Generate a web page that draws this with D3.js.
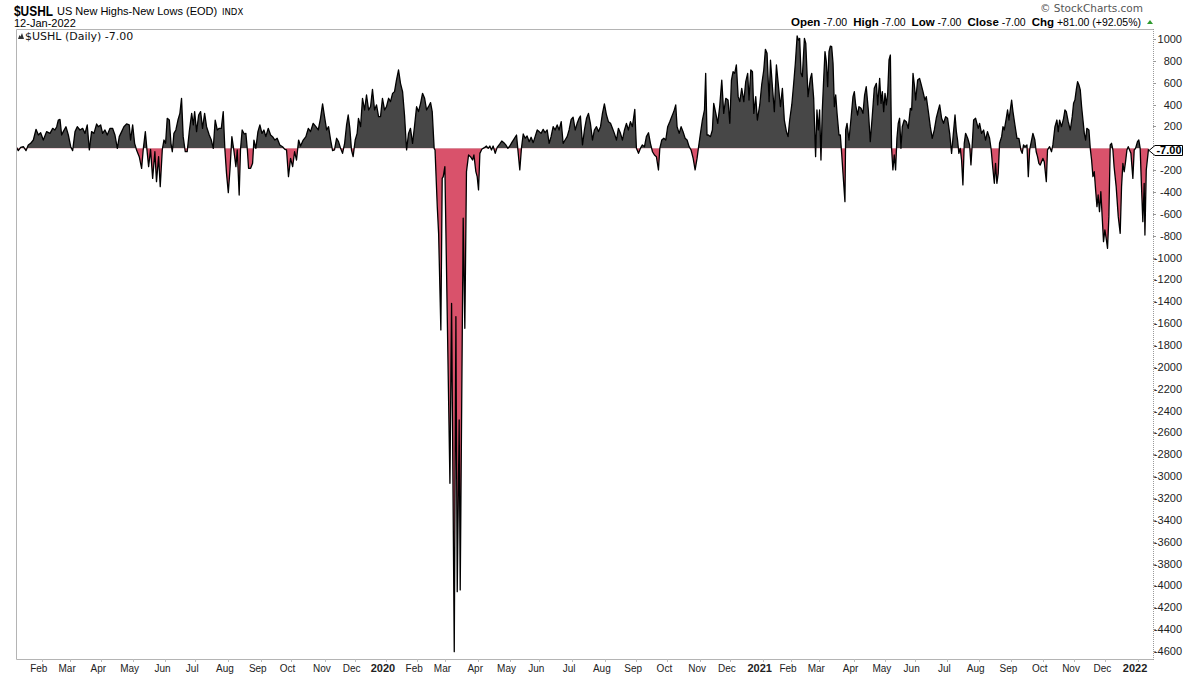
<!DOCTYPE html>
<html><head><meta charset="utf-8">
<script src="https://cdn.jsdelivr.net/npm/d3@7"></script>
<style>body{margin:0;background:#fff}svg{display:block}</style>
</head><body><svg id="c" width="1200" height="675"></svg>
<script>
// ---------- data ----------
const lastSession = "2022-01-12";
const sessionCount = 761;
const marketHolidays = ["2019-01-21","2019-02-18","2019-04-19","2019-05-27","2019-07-04","2019-09-02","2019-11-28","2019-12-25",
  "2020-01-01","2020-01-20","2020-02-17","2020-04-10","2020-05-25","2020-07-03","2020-09-07","2020-11-26","2020-12-25",
  "2021-01-01","2021-01-18","2021-02-15","2021-04-02","2021-05-31","2021-07-05","2021-09-06","2021-11-25","2021-12-24"];
const yTickValues = d3.range(-4600, 1001, 200).filter(v => v !== 0);
const lastValue = -7.00;
const headerFields = [["Open","-7.00"],["High","-7.00"],["Low","-7.00"],["Close","-7.00"],["Chg","+81.00 (+92.05%)"]];
// [trading session index, new highs - new lows]
const ushl = [
[0,9],[1.2,-21],[2.8,9],[4.6,15],[6.4,-21],[7.9,31],[9.5,46],[11.3,76],[13.1,174],[14.7,122],[16.2,143],[18,76],[20.2,153],[22.5,137],[24.3,183],[25.8,168],[27,198],[28.1,259],[29.2,265],[30.3,122],[31.4,153],[33.2,198],[34.8,122],[36.4,15],[37.7,-21],[39.3,153],[40.8,198],[42.6,168],[44.4,183],[46,137],[47.5,214],[48.9,-15],[50.4,153],[52,137],[53.8,223],[54.9,198],[56.5,214],[57.8,137],[59.4,168],[60.9,122],[62.8,183],[64.5,183],[66.1,122],[67.7,0],[69,107],[70.6,153],[72.1,198],[73.9,223],[75.7,214],[76.6,76],[78,214],[79.3,46],[80.6,-15],[82.4,-76],[84,-183],[85.1,-9],[86.5,153],[87.6,-15],[88.7,-168],[90,-9],[91.4,-275],[92.9,-31],[94,-305],[95.4,-76],[96.5,-351],[97.9,-9],[99,76],[100.1,46],[101.2,275],[102.6,259],[103.7,46],[104.6,-31],[105.7,137],[107,168],[108.4,259],[109.7,320],[110.8,458],[111.9,107],[113.3,-31],[114.6,-31],[116,153],[117.6,320],[118.7,214],[119.6,336],[120.9,153],[122.3,305],[123.6,336],[124.9,183],[126.3,320],[127.6,198],[129.4,122],[130.8,76],[132.1,0],[133.4,259],[134.8,168],[136.1,183],[137.5,183],[138.8,336],[139.9,-9],[141,-229],[142.2,-406],[143.3,-198],[144.6,107],[145.9,-15],[147.3,-168],[148.2,-15],[149.5,-427],[150.4,-9],[151.5,168],[152.9,131],[154,137],[155,-15],[155.8,-183],[157.2,-183],[158.5,-137],[159.4,76],[160.7,0],[162.1,153],[163.4,214],[164.8,137],[166.1,168],[167.4,107],[169,183],[170.6,122],[171.9,107],[173.5,76],[175,92],[176.8,31],[178.6,15],[180.2,-9],[181.3,-15],[182.6,-259],[184,-92],[185.4,-168],[186.7,-31],[188,-107],[189.4,76],[190.7,21],[192.5,76],[194.3,107],[195.9,183],[197.4,153],[199.2,229],[201,198],[202.6,168],[204.1,275],[205.5,406],[206.8,290],[208.2,168],[209.5,198],[210.9,76],[212.2,-21],[213.5,-15],[214.9,92],[216.2,61],[217.6,0],[218.9,-46],[220.3,46],[221.6,214],[222.7,305],[223.8,183],[224.9,-15],[226,-76],[227.4,76],[228.7,137],[229.6,275],[231,198],[232.3,458],[233.7,351],[235,488],[236.4,351],[237.7,381],[239,540],[240.4,351],[241.7,397],[243.1,290],[244.4,290],[245.7,458],[247.1,351],[248.4,381],[249.8,458],[251.1,427],[252.5,503],[253.8,519],[255.1,625],[256.5,717],[257.8,595],[259.2,519],[260.5,305],[261.9,-15],[263.2,137],[264.5,183],[265.9,46],[267.2,198],[268.6,381],[269.9,336],[271.3,412],[272.6,503],[274,458],[275.3,351],[276.6,381],[278,418],[279.1,336],[280.4,0],
[281,-15],[282.5,-534],[283.4,-778],[284.9,-1662],[285.8,-275],[286.5,-259],[287.6,-168],[291,-3065],[292.1,-1418],[293.9,-4606],[295,-1540],[295.9,-4057],[297.2,-2486],[297.9,-4041],[299.9,-640],[301,-1647],[302.1,-213],[303.5,-61],[304.8,-76],[306.2,-107],[307.1,-61],[308.4,-213],[309.3,-259],[310.2,-381],[311.1,-46],[312.4,-9],[313.3,0],
[314.4,9],[315.5,21],[316.7,0],[317.8,21],[318.9,-15],[320,21],[321.4,-46],[322.7,9],[324.5,40],[325.8,67],[327.2,52],[328.5,31],[329.9,0],[331.2,21],[332.5,52],[333.9,82],[335.7,122],[336.6,-9],[337.9,-198],[339,0],[340.2,131],[341.5,92],[342.8,113],[344.2,61],[345.5,101],[346.9,52],[348.2,107],[349.6,168],[350.9,153],[352.2,137],[353.6,174],[354.9,143],[356.3,168],[357.6,46],[358.9,107],[360.3,198],[361.6,168],[363,214],[364.3,168],[365.7,244],[367,46],[368.3,76],[369.7,107],[371,168],[372.4,265],[373.7,284],[375.1,168],[376.4,229],[377.7,275],[378.6,296],[380,31],[381.3,168],[382.7,275],[384,320],[385.3,229],[386.7,76],[388,168],[389.4,198],[390.7,153],[392.1,198],[393.4,320],[394.7,406],[396.1,305],[397.4,244],[398.8,229],[400.1,183],[401.4,137],[402.8,76],[404.1,183],[405.5,137],[406.8,76],[408.2,168],[409.5,229],[410.8,168],[412.2,244],[413.5,198],[415.1,357],[416.2,0],[417.6,-46],[418.9,0],[420.2,31],[421.6,15],[422.9,107],[424.3,143],[425.6,46],[427,-31],[428.3,-61],[429.6,-76],[431,-198],[431.9,0],[433.2,76],[434.6,92],[435.9,76],[437.2,198],[438.6,244],[439.9,290],[441.3,336],[442.6,397],[443.5,198],[444.9,137],[446.2,198],[447.5,153],[448.9,92],[450.2,76],[451.6,15],[452.9,-15],[454.3,-92],[455.6,-198],[456.9,-92],[457.8,0],[459.2,137],[460.5,259],[461.9,351],[462.7,686],[463.6,122],
[464.5,122],[465.9,107],[467.2,168],[468.1,412],[469.5,320],[470.8,229],[472.1,381],[473.5,625],[474.8,320],[476.2,458],[477.7,442],[478.9,229],[480,625],[481.1,701],[482.2,686],[483.3,763],[484.5,473],[485.6,427],[486.9,549],[488.3,427],[489.6,610],[490.9,686],[491.8,442],[493,717],[494.1,701],[495,320],[496.3,473],[497.4,259],[499,397],[500.3,580],[501.7,717],[502.8,906],[503.9,869],[505.3,427],[506.2,808],[507.5,564],[508.8,336],[510.2,763],[511.5,580],[512.9,381],[514.2,549],[515.5,259],[516.9,153],[518,107],[519.1,259],[520.5,397],[521.8,595],[522.9,778],[524.1,1028],[524.9,991],[525.8,1006],
[526.7,686],[527.6,656],[529,1006],[529.9,961],[531.4,473],[533,640],[533.9,686],[535.2,458],[536.5,-76],
[537.4,351],[538.3,168],[539.2,351],[540.1,-107],[541,351],[541.9,625],[542.8,885],[543.7,793],[544.6,564],[545.5,885],[546.4,936],[547.3,930],[548.2,778],[549.1,381],[550,488],[550.9,320],[552.2,122],[553.1,122],[554,-46],[554.9,-229],[556.2,-488],[556.7,168],[557.6,229],[558.9,76],[560.3,275],[561.6,473],[562.5,519],[563.4,397],[564.7,305],[565.6,381],[567,366],[568.3,320],[569.4,488],[570.5,564],[571.9,351],[573.2,61],[574.6,305],[575.9,549],[577.3,595],[578.2,397],[579.5,640],[580.4,412],[581.3,519],[582.2,336],[583.1,503],[584,397],[584.9,503],[585.8,808],[586.7,854],[587.5,0],[588.4,-198],[589.3,-61],[590.2,-198],[591.1,92],[592,229],[592.9,275],[593.8,0],[594.7,198],[596,259],[597.4,244],[598.7,183],[600.1,366],[601,351],[601.9,686],[602.8,580],[603.7,442],[605,625],[606.3,640],[607.2,595],[608.6,519],[609.9,442],[610.8,473],[612.2,336],[613.5,198],[614.8,92],[616.2,168],[617.5,275],[618.9,351],[619.8,397],[621.1,275],[622.4,229],[623.8,290],[625.1,275],[626.5,137],[627.8,-46],[629.2,168],[630.1,305],[631,153],[631.8,76],[632.7,-46],[633.6,0],[634.5,-107],[635.4,-335],[636.3,46],[637.2,137],[638.6,92],[639.9,31],[640.8,-152],[641.7,46],[642.6,259],[643.9,275],[644.8,229],[645.7,183],[646.6,229],[647.9,137],[649.3,168],[650.6,76],[651.9,153],[653.3,92],[654.4,-15],[655.5,-183],[656.5,-320],[657.3,-137],[658.2,-320],[659.1,-229],[660,46],[661.4,107],[662.3,198],[663.2,168],[664.5,275],[665.4,351],[666.3,259],[667.2,351],[668.1,442],[669,336],[670.3,214],[671.7,92],[673,92],[674.3,-15],[675.2,-46],[676.1,31],[677,15],[678.4,31],[679.3,-259],[680.2,-15],[681.5,76],[682.4,137],[683.7,76],[684.6,-31],[685.5,-76],[686.4,-137],[687.3,-153],[688.2,-122],[689.1,-92],[690,-122],[691.4,-305],[692.2,-15],[693.6,15],[694.9,-31],[695.8,31],[697.2,198],[698.5,259],[699.4,153],[700.3,259],[701.6,198],[703,275],[703.9,351],[704.8,336],[706.1,244],[707.5,168],[708.8,290],[709.7,412],[710.6,442],[711.5,534],[712.4,610],[713.3,580],[714.2,534],[715.1,381],[716,259],[716.9,137],[717.8,76],[718.6,183],[720,168],[720.9,0],[721.8,-107],[722.7,-259],[723.6,-214],[724.5,-381],[725.4,-534],[726.2,-427],[727.1,-580],[728,-397],[728.9,-625],[729.8,-854],[730.7,-747],[731.6,-824],[732.5,-915],[733.4,-625],[734.3,31],[735.2,46],[736.1,-15],[736.9,-168],[738.3,-351],[739.7,-625],[741,-778],[741.9,-351],[742.8,-137],[743.7,-214],[744.6,-122],[745.5,-15],[746.4,15],[747.3,-15],[748.2,-46],[749.5,-275],[750.4,-15],[751.3,0],[752.6,61],[753.5,76],[754.4,0],[755.3,-351],[756.2,-671],[757.1,-320],[757.6,-793],[758.5,-198],[760,-7]
];

// ---------- calendar of trading sessions ----------
const parse = d3.utcParse("%Y-%m-%d"), fmt = d3.utcFormat("%Y-%m-%d");
const holidaySet = new Set(marketHolidays);
const sessions = [];
for (let d = parse(lastSession); sessions.length < sessionCount; d = d3.utcDay.offset(d, -1)) {
  const wd = d.getUTCDay();
  if (wd === 0 || wd === 6 || holidaySet.has(fmt(d))) continue;
  sessions.unshift(d);
}
const num = v => String(v);            // plain hyphen-minus like the original
const fix2 = v => v.toFixed(2);

// ---------- layout ----------
const L = 16, T = 29, R = 1153, B = 659;
const SANS = "Arial, 'Liberation Sans', sans-serif";
const VERD = "'DejaVu Sans', Verdana, sans-serif";
const svg = d3.select("#c");
const x = d3.scaleLinear().domain([0, sessionCount - 1]).range([16.5, 1148.5]);
const y = d3.scaleLinear().domain([-4673, 1092]).range([B, T]);
const y0 = y(0);

const defs = svg.append("defs");
defs.append("clipPath").attr("id","pos").append("rect").attr("x",L).attr("y",T).attr("width",R-L).attr("height",y0-T);
defs.append("clipPath").attr("id","neg").append("rect").attr("x",L).attr("y",y0).attr("width",R-L).attr("height",B-y0);

const area = d3.area().x(d => x(d[0])).y0(y0).y1(d => y(d[1]));
const line = d3.line().x(d => x(d[0])).y(d => y(d[1]));

svg.append("path").datum(ushl).attr("d", area).attr("fill", "#474747").attr("clip-path","url(#pos)");
svg.append("path").datum(ushl).attr("d", area).attr("fill", "#d9526b").attr("clip-path","url(#neg)");
svg.append("path").datum(ushl).attr("d", line).attr("fill","none").attr("stroke","#000").attr("stroke-width",1.3).attr("stroke-linejoin","round");

// frame
svg.append("path").attr("d",`M${R+0.5},${T+0.5}H${L+0.5}V${B+0.5}H${R+0.5}`).attr("fill","none").attr("stroke","#b4b4b4");
svg.append("line").attr("x1",R+0.5).attr("x2",R+0.5).attr("y1",T).attr("y2",B+1)
  .attr("stroke","#9a9a9a").attr("stroke-dasharray","1,1");

// y axis (right)
const yAxis = svg.append("g").attr("font-family",SANS).attr("font-size",11).attr("fill","#222");
yTickValues.forEach(v => {
  const yy = Math.round(y(v)) + 0.5;
  yAxis.append("line").attr("x1",R).attr("x2",R+3).attr("y1",yy).attr("y2",yy).attr("stroke","#9a9a9a");
  yAxis.append("text").attr("x",1182).attr("y",yy).attr("dy","0.35em").attr("text-anchor","end").text(num(v));
});

// last value tag
const ty = Math.round(y(lastValue)) + 1.5;
svg.append("path").attr("d",`M1149,${ty} L1155,${ty-5} H1182.5 V${ty+5} H1155 Z`).attr("fill","#fff").attr("stroke","#000");
svg.append("text").attr("x",1169).attr("y",ty).attr("dy","0.36em").attr("text-anchor","middle")
  .attr("font-family",SANS).attr("font-weight","bold").attr("font-size",11).text(fix2(lastValue));

// x axis month labels
const xAxis = svg.append("g").attr("font-family",SANS).attr("font-size",10).attr("fill","#222");
for (let i = 1; i < sessions.length; i++) {
  if (sessions[i].getUTCMonth() !== sessions[i-1].getUTCMonth()) {
    const xx = Math.round(x(i)) + 0.5;
    xAxis.append("line").attr("x1",xx).attr("x2",xx).attr("y1",B).attr("y2",B+3).attr("stroke","#bbb");
    const isYear = sessions[i].getUTCMonth() === 0;
    xAxis.append("text").attr("x", x(i) - 3).attr("y", 672).attr("text-anchor","middle")
      .attr("font-weight", isYear ? "bold" : "normal").attr("font-size", isYear ? 11 : 10)
      .text(isYear ? d3.utcFormat("%Y")(sessions[i]) : d3.utcFormat("%b")(sessions[i]));
  }
}

// header
const hdr = svg.append("g").attr("fill","#000");
hdr.append("text").attr("x",14).attr("y",16).attr("font-family",SANS)
  .attr("font-weight","bold").attr("font-size",15).attr("textLength",39).attr("lengthAdjust","spacingAndGlyphs").text("$USHL");
hdr.append("text").attr("x",57).attr("y",15).attr("font-family",SANS).attr("font-size",11).text("US New Highs-New Lows (EOD)");
hdr.append("text").attr("x",222).attr("y",15).attr("font-family",VERD).attr("font-size",8.5).text("INDX");
hdr.append("text").attr("x",14).attr("y",27).attr("font-family",SANS).attr("font-size",11).text(d3.utcFormat("%d-%b-%Y")(parse(lastSession)));

svg.append("text").attr("x",1143).attr("y",12).attr("text-anchor","end").attr("fill","#555")
  .attr("font-family",VERD).attr("font-size",10.5).text("\u00A9 StockCharts.com");

const ohlc = svg.append("text").attr("x",1141).attr("y",26).attr("text-anchor","end")
  .attr("font-family",SANS).attr("font-size",10.5).attr("fill","#000");
headerFields.forEach((f, i) => {
  ohlc.append("tspan").attr("font-weight","bold").attr("font-size",11.5).attr("dx", i ? 6 : 0).text(f[0]);
  ohlc.append("tspan").text(" " + f[1]);
});
svg.append("path").attr("d","M1147,24 L1150,20 L1153,24 Z").attr("fill","#2e9a2e");

// legend
svg.append("path").attr("d","M18,39 L19.5,35 L20.5,36.5 L22,33 L24,39 Z").attr("fill","#333");
svg.append("text").attr("x",25).attr("y",40).attr("font-family",VERD).attr("font-size",11)
  .attr("fill","#111").text("$USHL (Daily) " + fix2(lastValue));
</script></body></html>
